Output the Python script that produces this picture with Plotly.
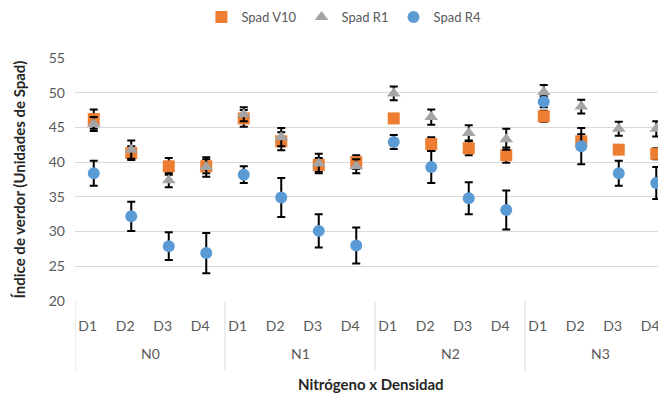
import plotly.graph_objects as go

groups = ["N0", "N1", "N2", "N3"]
densities = ["D1", "D2", "D3", "D4"]

spad_v10 = [46.2, 41.3, 39.4, 39.4, 46.3, 43.0, 39.6, 40.0, 46.3, 42.6, 42.0, 41.0, 46.6, 43.0, 41.8, 41.2]
spad_v10_err = [1.4, 1.0, 1.2, 1.0, 1.2, 1.3, 1.0, 1.0, 0.5, 1.0, 1.0, 1.1, 0.8, 1.0, 0.5, 0.8]
spad_r1 = [45.5, 41.8, 37.4, 39.3, 46.9, 43.6, 39.8, 39.4, 49.9, 46.5, 44.2, 43.3, 50.1, 48.0, 44.8, 44.8]
spad_r1_err = [1.0, 1.3, 1.0, 1.4, 1.0, 1.3, 1.4, 1.0, 1.0, 1.1, 1.1, 1.5, 1.0, 1.0, 1.0, 1.1]
spad_r4 = [38.4, 32.2, 27.9, 26.9, 38.2, 34.9, 30.1, 28.0, 42.9, 39.3, 34.8, 33.1, 48.7, 42.3, 38.4, 37.0]
spad_r4_err = [1.8, 2.1, 2.0, 2.9, 1.2, 2.8, 2.4, 2.6, 1.0, 2.3, 2.3, 2.8, 0.8, 2.6, 1.8, 2.3]

n_cat = len(groups) * len(densities)
xs = list(range(n_cat))
tick_text = [d for g in groups for d in densities]

FONT = "Lato, Open Sans, sans-serif"
GREY_TXT = "#595959"

fig = go.Figure()
series = [
    ("Spad V10", spad_v10, spad_v10_err, "#ED7D31", "square"),
    ("Spad R1", spad_r1, spad_r1_err, "#A5A5A5", "triangle-up"),
    ("Spad R4", spad_r4, spad_r4_err, "#5B9BD5", "circle"),
]
for name, vals, errs, color, sym in series:
    fig.add_trace(go.Scatter(
        x=xs, y=vals, name=name, mode="markers", cliponaxis=False,
        marker=dict(color=color, symbol=sym, size=12, line=dict(width=0)),
        error_y=dict(type="data", array=errs, visible=True, color="#000000",
                     thickness=2, width=4),
    ))

PLOT_H = 243.0
# group dividers and labels
for i, g in enumerate(groups):
    x0 = i * len(densities) - 0.5
    fig.add_shape(type="line", xref="x", yref="paper", x0=x0, x1=x0,
                  y0=0, y1=-70 / PLOT_H, line=dict(color="#D9D9D9", width=1))
    fig.add_annotation(x=x0 + len(densities) / 2, xref="x", y=-52 / PLOT_H, yref="paper",
                       yanchor="middle", text=g, showarrow=False,
                       font=dict(family=FONT, size=14, color=GREY_TXT))

fig.add_annotation(x=0.5, xref="paper", y=-83 / PLOT_H, yref="paper", yanchor="middle",
                   text="<b>Nitrógeno x Densidad</b>", showarrow=False,
                   font=dict(family=FONT, size=15, color="#262626"))
fig.add_annotation(x=-57 / 591.0, xref="paper", y=0.5, yref="paper", xanchor="center",
                   yanchor="middle", textangle=-90,
                   text="<b>Índice de verdor (Unidades de Spad)</b>", showarrow=False,
                   font=dict(family=FONT, size=15, color="#262626"))

fig.update_layout(
    width=658, height=391,
    margin=dict(l=67, r=0, t=50, b=98, autoexpand=False),
    paper_bgcolor="white", plot_bgcolor="white",
    font=dict(family=FONT, size=13, color=GREY_TXT),
    showlegend=True,
    legend=dict(orientation="h", x=0.455, xanchor="center", y=(PLOT_H - 9 + 50) / PLOT_H - 0.0,
                yanchor="middle",
                font=dict(family=FONT, size=13, color=GREY_TXT),
                itemwidth=30, tracegroupgap=0),
    xaxis=dict(
        range=[-0.5, 15.26], tickmode="array", tickvals=xs, ticktext=tick_text,
        showgrid=False, zeroline=False, showline=False, ticks="",
        automargin=False, ticklabelstandoff=15, ticklabelshift=-6,
        tickfont=dict(family=FONT, size=14, color=GREY_TXT),
    ),
    yaxis=dict(
        range=[20, 55], dtick=5, tick0=20,
        showgrid=True, gridcolor="#D9D9D9", gridwidth=1,
        zeroline=False, showline=False, ticks="",
        automargin=False, ticklabelstandoff=9,
        tickfont=dict(family=FONT, size=14, color=GREY_TXT),
    ),
)

fig.write_html("out.html")
